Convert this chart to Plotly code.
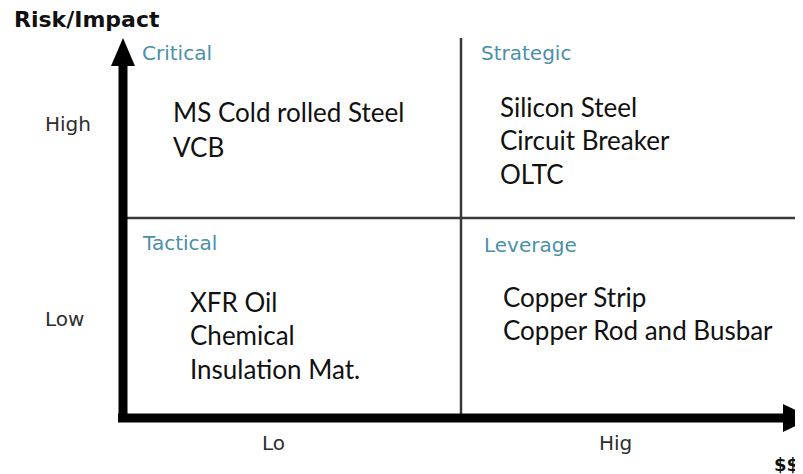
import plotly.graph_objects as go

# ---- data ----
quadrants = ["Critical", "Strategic", "Tactical", "Leverage"]
critical_items = ["MS Cold rolled Steel", "VCB"]
strategic_items = ["Silicon Steel", "Circuit Breaker", "OLTC"]
tactical_items = ["XFR Oil", "Chemical", "Insulation Mat."]
leverage_items = ["Copper Strip", "Copper Rod and Busbar"]
y_levels = ["High", "Low"]
x_levels = ["Lo", "Hig"]
y_title = "Risk/Impact"
x_title = "$$"

# ---- layout constants (quadrant units: each quadrant is 1x1) ----
OFF = 8                      # page body margin
W, H = 803 - OFF, 474 - OFF
X0, XU = 123 - OFF, 338      # pixel of x=0, pixels per unit
Y0, YU = 418 - OFF, 200      # pixel of y=0, pixels per unit
xr = [-X0 / XU, (W - X0) / XU]
yr = [-(H - Y0) / YU, Y0 / YU]


def ux(px):
    return (px - OFF - X0) / XU


def uy(py):
    return (Y0 - (py - OFF)) / YU


TEAL = "#4a90a8"
ITEM_FONT = dict(family="Lato, Carlito, sans-serif", size=26, color="#111111")
LBL_FONT = dict(family="DejaVu Sans, Verdana, sans-serif", size=20, color="#2e2e2e")

fig = go.Figure()

# item blocks: (items, left px, first-line centre px, line step px)
blocks = [
    (critical_items, 173, 115, 35),
    (strategic_items, 500, 110, 33.5),
    (tactical_items, 190, 305, 33.5),
    (leverage_items, 503, 300, 33),
]
for items, bx, by, step in blocks:
    fig.add_trace(go.Scatter(
        x=[ux(bx)] * len(items),
        y=[uy(by + i * step) for i in range(len(items))],
        text=items, mode="text", textposition="middle right",
        textfont=ITEM_FONT, hoverinfo="skip", showlegend=False))

# quadrant titles
q_pos = [(140, 53), (479, 53), (140, 243), (482, 245)]
for name, (qx, qy) in zip(quadrants, q_pos):
    fig.add_annotation(x=ux(qx), y=uy(qy), text=name, showarrow=False, xanchor="left",
                       yanchor="middle", font=dict(family=LBL_FONT["family"], size=20, color=TEAL))

# level labels
for lab, ly in zip(y_levels, [124, 319]):
    fig.add_annotation(x=ux(43), y=uy(ly), text=lab, showarrow=False, xanchor="left",
                       yanchor="middle", font=LBL_FONT)
for lab, lx in zip(x_levels, [273, 615]):
    fig.add_annotation(x=ux(lx), y=uy(443), text=lab, showarrow=False, xanchor="center",
                       yanchor="middle", font=LBL_FONT)

fig.add_annotation(x=ux(12), y=uy(19), text=f"<b>{y_title}</b>", showarrow=False,
                   xanchor="left", yanchor="middle",
                   font=dict(family="DejaVu Sans, Verdana, sans-serif", size=22, color="#111111"))
fig.add_annotation(x=ux(801), y=uy(464), text=f"<b>{x_title}</b>", showarrow=False,
                   xanchor="right", yanchor="middle",
                   font=dict(family="DejaVu Sans, Verdana, sans-serif", size=18, color="#111111"))

# dividers
DIV = dict(color="#3a3a3a", width=2.5)
fig.add_shape(type="line", x0=1, x1=1, y0=0, y1=uy(38), line=DIV)
fig.add_shape(type="line", x0=0, x1=ux(798), y0=1, y1=1, line=DIV)

# axes arrows
AX = dict(color="black", width=9)
fig.add_shape(type="line", x0=0, x1=0, y0=uy(422), y1=uy(62), line=AX)
fig.add_shape(type="line", x0=ux(118), x1=ux(788), y0=0, y1=0, line=AX)
fig.add_shape(type="path",
              path=f"M {ux(111)} {uy(66)} L {ux(123)} {uy(38)} L {ux(135)} {uy(66)} Z",
              fillcolor="black", line=dict(width=0))
fig.add_shape(type="path",
              path=f"M {ux(783)} {uy(404)} L {ux(812)} {uy(418)} L {ux(783)} {uy(432)} Z",
              fillcolor="black", line=dict(width=0))

fig.update_layout(
    width=W, height=H, margin=dict(l=0, r=0, t=0, b=0),
    paper_bgcolor="white", plot_bgcolor="white",
    xaxis=dict(range=xr, visible=False, fixedrange=True),
    yaxis=dict(range=yr, visible=False, fixedrange=True),
)
fig.write_html("out.html")
